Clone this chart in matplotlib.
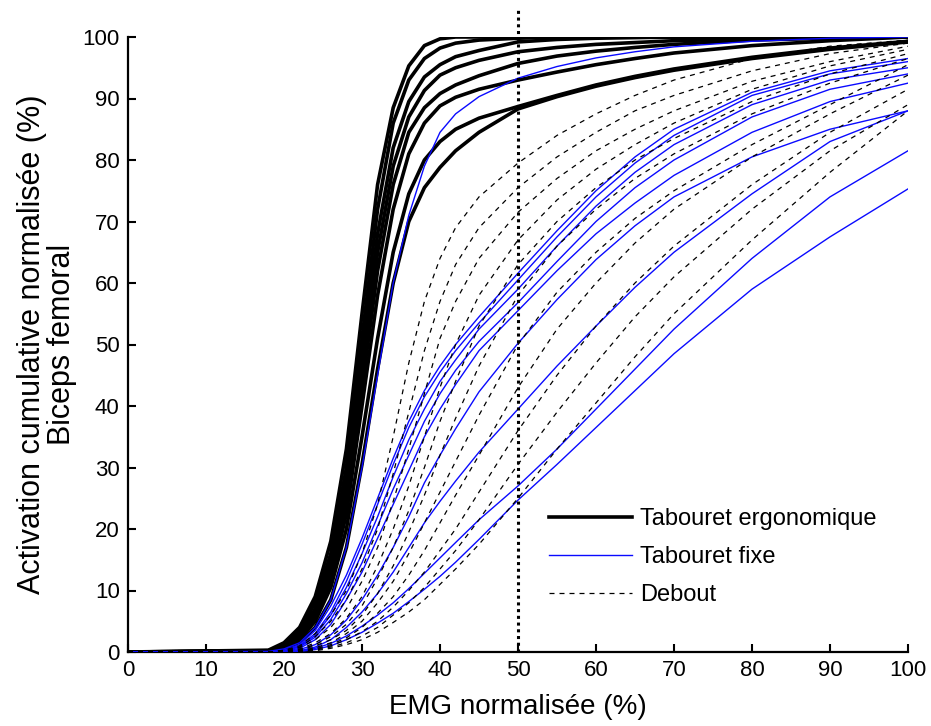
import matplotlib
matplotlib.use("Agg")
import matplotlib.pyplot as plt
from matplotlib.lines import Line2D

# Normalised EMG level (%) at which each cumulative curve is sampled
emg = [0, 18, 20, 22, 24, 26, 28, 30, 32, 34, 36, 38, 40, 42, 45, 50, 55, 60, 65, 70, 80, 90, 100]

# Tabouret ergonomique (one list per trial)
ergo_a = [0, 0.3, 1.5, 4, 9, 18, 33, 55, 76, 88.5, 95.3, 98.6, 99.7, 100, 100, 100, 100, 100, 100, 100, 100, 100, 100]
ergo_b = [0, 0.2, 1.2, 3.5, 8, 16, 30, 51, 72, 86, 93, 96.5, 98.2, 99, 99.5, 99.8, 100, 100, 100, 100, 100, 100, 100]
ergo_c = [0, 0.2, 1, 3, 7, 14.5, 28, 48, 68, 82, 89.5, 93.5, 95.5, 96.8, 97.8, 99.2, 99.6, 99.8, 99.9, 100, 100, 100, 100]
ergo_d = [0, 0.1, 0.9, 2.7, 6.5, 13.5, 26, 45, 65, 79, 87, 91.3, 93.8, 95, 96.2, 97.6, 98.3, 98.8, 99.1, 99.4, 99.7, 99.9, 100]
ergo_e = [0, 0.1, 0.8, 2.5, 6, 12.5, 24.5, 43, 62, 76, 84.5, 88.5, 90.8, 92.2, 93.7, 95.7, 96.9, 97.7, 98.3, 98.8, 99.5, 99.8, 100]
ergo_f = [0, 0.1, 0.7, 2.2, 5.5, 11.5, 22.5, 40, 58, 72, 81, 86, 88.8, 90.2, 91.5, 93, 94.3, 95.5, 96.5, 97.4, 98.6, 99.4, 100]
ergo_g = [0, 0.1, 0.7, 2, 5, 10.5, 20, 35, 51, 65, 74.5, 80, 83, 85, 86.8, 88.7, 90.5, 92.2, 93.6, 94.8, 96.7, 98.2, 99.3]
ergo_h = [0, 0.1, 0.5, 1.6, 4, 8.5, 17, 30.5, 46, 60, 70, 75.5, 78.8, 81.5, 84.5, 88.3, 90.3, 92, 93.4, 94.6, 96.5, 98, 99.2]
ergo_curves = [ergo_a, ergo_b, ergo_c, ergo_d, ergo_e, ergo_f, ergo_g, ergo_h]

# Tabouret fixe
fixe_1 = [0, 0.1, 0.5, 1.5, 4, 8.5, 17, 30, 45, 60, 71, 79, 84.5, 87.5, 90.3, 93.3, 95.2, 96.6, 97.6, 98.4, 99.3, 99.8, 100]
fixe_2 = [0, 0, 0.3, 1.2, 3.5, 7.5, 12.5, 18.5, 25, 31.5, 37.5, 42.5, 46.5, 50, 54.5, 61.6, 68.5, 75, 80.5, 85, 91, 94.5, 96.5]
fixe_3 = [0, 0, 0.2, 1, 3, 6.5, 11.5, 17.5, 24, 30.5, 36.5, 41.5, 45.5, 49, 53.5, 60.5, 67.5, 74, 79.5, 84, 90.5, 94, 96]
fixe_4 = [0, 0, 0.2, 0.9, 2.7, 6, 10.5, 16, 22, 28.5, 34.5, 39.5, 44, 47.5, 52.5, 59, 66, 72.5, 78, 82.5, 89, 93, 95]
fixe_5 = [0, 0, 0.2, 0.8, 2.4, 5.3, 9.5, 14.5, 20.5, 26.5, 32, 37.5, 42, 45.8, 50.5, 56.8, 63.5, 70, 75.5, 80, 87, 91.5, 94]
fixe_6 = [0, 0, 0.1, 0.6, 2, 4.5, 8.5, 13, 18.5, 24, 29.5, 35, 39.5, 43.5, 49, 55.5, 62, 68, 73, 77.5, 84.5, 89.5, 92.5]
fixe_7 = [0, 0, 0.1, 0.4, 1.2, 2.8, 5.2, 8.5, 12.5, 17, 22, 27.5, 32, 36.3, 42.3, 50.2, 57.3, 63.8, 69.3, 74, 80.5, 85, 88]
fixe_8 = [0, 0, 0, 0.2, 0.8, 2, 4, 6.5, 9.5, 13, 17, 21, 24.5, 27.8, 32.5, 39.5, 46.5, 53, 59.3, 65, 74.5, 83, 88]
fixe_9 = [0, 0, 0, 0.2, 0.6, 1.4, 2.6, 4.2, 6, 8, 10.3, 12.8, 15.3, 17.8, 21.5, 27, 33, 39.5, 46, 52.5, 64, 74, 81.5]
fixe_10 = [0, 0, 0, 0.1, 0.4, 1, 2, 3.2, 4.7, 6.3, 8.2, 10.2, 12.3, 14.6, 18.3, 24.7, 30.5, 36.5, 42.5, 48.5, 59, 67.5, 75.3]
fixe_curves = [fixe_1, fixe_2, fixe_3, fixe_4, fixe_5, fixe_6, fixe_7, fixe_8, fixe_9, fixe_10]

# Debout
debout_1 = [0, 0, 0.3, 1, 3, 6, 10, 16, 24, 35, 47, 57, 64, 69, 74, 79.5, 84, 87.5, 90.5, 93, 96.5, 98.5, 99.5]
debout_2 = [0, 0, 0.2, 0.8, 2.5, 5, 8.5, 13.5, 20, 29, 39, 49, 57, 63, 69, 75.5, 80.5, 84.5, 88, 90.5, 94.5, 97.3, 99]
debout_3 = [0, 0, 0.2, 0.7, 2, 4, 7, 11.5, 17, 24.5, 33, 42, 51, 57, 64, 71.5, 77, 81.5, 85, 88, 92.8, 96, 98.5]
debout_4 = [0, 0, 0.1, 0.5, 1.5, 3, 5.5, 9, 14, 20, 27, 35, 43, 50, 58, 67, 73.5, 78.5, 82.5, 86, 91.5, 95.3, 98]
debout_5 = [0, 0, 0.1, 0.4, 1.2, 2.5, 4.5, 7.5, 12, 17, 23, 30, 37.5, 44, 53, 63, 70, 75.5, 80, 83.5, 89.5, 94, 97.3]
debout_6 = [0, 0, 0, 0.3, 1, 2, 3.5, 6, 9.5, 14, 19.5, 25.5, 32, 38, 46.5, 58, 66, 72, 77, 81, 87.5, 92.5, 96.5]
debout_7 = [0, 0, 0, 0.2, 0.7, 1.5, 3, 5, 8, 11.5, 16, 21, 26, 31, 38.5, 50, 58.5, 65, 70.5, 75, 82.5, 89, 95.5]
debout_8 = [0, 0, 0, 0.1, 0.5, 1.2, 2.3, 4, 6.3, 9, 12.5, 16.5, 21, 25.5, 32, 43, 52.5, 60, 66.5, 72, 80.5, 87.5, 93.8]
debout_9 = [0, 0, 0, 0.1, 0.4, 1, 2, 3.3, 5, 7.3, 10, 13, 16.5, 20, 26, 36, 45, 53, 60, 66, 76, 84.5, 91.5]
debout_10 = [0, 0, 0, 0, 0.3, 0.8, 1.5, 2.6, 4, 6, 8, 10.5, 13.5, 16.5, 21.5, 30.5, 39, 47, 54.5, 61, 72, 81.5, 89]
debout_11 = [0, 0, 0, 0, 0.2, 0.6, 1.2, 2, 3.2, 4.8, 6.5, 8.5, 11, 13.5, 17.5, 25, 33, 40.5, 48, 55, 67, 78, 88]
debout_curves = [debout_1, debout_2, debout_3, debout_4, debout_5, debout_6,
                 debout_7, debout_8, debout_9, debout_10, debout_11]

ticks = [0, 10, 20, 30, 40, 50, 60, 70, 80, 90, 100]
threshold = 50
legend_labels = ["Tabouret ergonomique", "Tabouret fixe", "Debout"]

plt.rcParams["font.family"] = ["Liberation Sans", "DejaVu Sans"]

fig = plt.figure(figsize=(9.31, 7.26), dpi=100)
ax = fig.add_axes([128 / 931, 74 / 726, 780 / 931, 615 / 726])

for ys in ergo_curves:
    ax.plot(emg, ys, color="black", lw=2.6, solid_capstyle="butt", zorder=3)
for ys in fixe_curves:
    ax.plot(emg, ys, color="#0a0aff", lw=1.0, zorder=4)
for ys in debout_curves:
    ax.plot(emg, ys, color="black", lw=0.9, dashes=(4, 4), zorder=5)

ax.plot([threshold, threshold], [0, 104.5], color="black", lw=2.2,
        dashes=(1, 1.2), clip_on=False, zorder=6)

ax.set_xlim(0, 100)
ax.set_ylim(0, 100)
ax.set_xticks(ticks)
ax.set_yticks(ticks)
ax.tick_params(direction="in", length=6, width=1.5, labelsize=16, pad=6)
for side in ("top", "right"):
    ax.spines[side].set_visible(False)
for side in ("left", "bottom"):
    ax.spines[side].set_linewidth(1.6)

ax.set_xlabel("EMG normalisée (%)", fontsize=20, labelpad=9)
ax.set_ylabel("Activation cumulative normalisée (%)\nBiceps femoral", fontsize=22,
              labelpad=4, linespacing=1.0)

handles = [
    Line2D([], [], color="black", lw=2.6),
    Line2D([], [], color="#0a0aff", lw=1.0),
    Line2D([], [], color="black", lw=0.9, dashes=(4, 4)),
]
ax.legend(handles, legend_labels, loc="center left", bbox_to_anchor=(0.54, 0.154),
          frameon=False, fontsize=17, handlelength=3.5, handletextpad=0.35,
          labelspacing=0.68, borderpad=0, borderaxespad=0)

fig.savefig("out.png", dpi=100)
